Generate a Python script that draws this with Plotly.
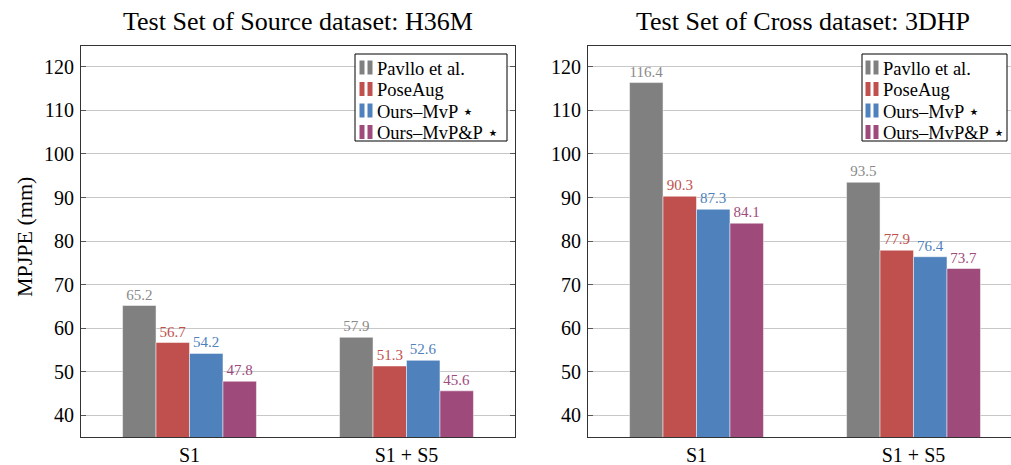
import plotly.graph_objects as go

categories = ["S1", "S1 + S5"]
methods = ["Pavllo et al.", "PoseAug", "Ours–MvP ⋆", "Ours–MvP&P ⋆"]
h36m_values = [
    [65.2, 57.9],
    [56.7, 51.3],
    [54.2, 52.6],
    [47.8, 45.6],
]
dhp_values = [
    [116.4, 93.5],
    [90.3, 77.9],
    [87.3, 76.4],
    [84.1, 73.7],
]
colors = ["#808080", "#C0504D", "#4F81BD", "#9E4A7B"]
text_colors = ["#8a8a8a", "#C0504D", "#4F81BD", "#9E4A7B"]

FONT = "Liberation Serif"

# layout geometry (pixels)
W, H = 1011, 465
L, R, T, B = 81, 0, 46, 28
PW, PH = W - L - R, H - T - B


def px(x):
    return (x - L) / PW


def py(y):
    return (T + PH - y) / PH


fig = go.Figure()
for panel, (vals, xa, ya) in enumerate([(h36m_values, "x", "y"), (dhp_values, "x2", "y2")]):
    for i, m in enumerate(methods):
        fig.add_trace(go.Bar(
            x=categories, y=vals[i], name=m, marker_color=colors[i],
            marker_line=dict(color="rgba(255,255,255,0.6)", width=0.8),
            text=[f"{v:.1f}" for v in vals[i]], textposition="outside",
            textfont=dict(family=FONT, size=15, color=text_colors[i]),
            constraintext="none", cliponaxis=False,
            xaxis=xa, yaxis=ya, showlegend=False,
        ))

yaxis_common = dict(
    range=[35, 124.8], tickvals=[40, 50, 60, 70, 80, 90, 100, 110, 120],
    showgrid=True, gridcolor="#c8c8c8", gridwidth=1,
    showline=True, linecolor="#333333", linewidth=1,
    ticks="inside", ticklen=5, tickcolor="#555555",
    tickfont=dict(family=FONT, size=20, color="black"),
    zeroline=False, ticklabelstandoff=2,
)
xaxis_common = dict(
    showline=True, linecolor="#333333", linewidth=1, mirror=True,
    ticks="", tickfont=dict(family=FONT, size=20, color="black"),
    showgrid=False, zeroline=False,
)

# custom legends (box + two-bar swatches + text), one per panel
shapes = []
annotations = []
legend_boxes = [
    dict(x0=355, x1=507, y0=54, y1=141, s1=(359.5, 364.5), s2=(367.5, 372.5), tx=375),
    dict(x0=862, x1=1007, y0=54, y1=141, s1=(865.5, 870.5), s2=(873.5, 878.5), tx=880.5),
]
row_centers = [67.5, 89, 110.5, 132]
for lb in legend_boxes:
    shapes.append(dict(type="rect", xref="paper", yref="paper",
                       x0=px(lb["x0"]), x1=px(lb["x1"]), y0=py(lb["y1"]), y1=py(lb["y0"]),
                       line=dict(color="black", width=1), fillcolor="white", layer="above"))
    for i, m in enumerate(methods):
        yc = row_centers[i]
        for (a, b) in (lb["s1"], lb["s2"]):
            shapes.append(dict(type="rect", xref="paper", yref="paper",
                               x0=px(a), x1=px(b), y0=py(yc + 7), y1=py(yc - 7),
                               line=dict(width=0), fillcolor=colors[i], layer="above"))
        annotations.append(dict(text=m, xref="paper", yref="paper", x=px(lb["tx"]), y=py(yc + 1),
                                xanchor="left", yanchor="middle", showarrow=False,
                                font=dict(family=FONT, size=18.5, color="black")))

annotations += [
    dict(text="Test Set of Source dataset: H36M", xref="paper", yref="paper",
         x=px(298), y=1.0, yshift=8, xanchor="center", yanchor="bottom", showarrow=False,
         font=dict(family=FONT, size=26, color="black")),
    dict(text="Test Set of Cross dataset: 3DHP", xref="paper", yref="paper",
         x=px(803), y=1.0, yshift=8, xanchor="center", yanchor="bottom", showarrow=False,
         font=dict(family=FONT, size=26, color="black")),
    dict(text="MPJPE (mm)", xref="paper", yref="paper", x=px(24), y=py(237),
         xanchor="center", yanchor="middle", textangle=-90, showarrow=False,
         font=dict(family=FONT, size=22, color="black")),
]

fig.update_layout(
    width=W, height=H,
    margin=dict(l=L, r=R, t=T, b=B, autoexpand=False),
    plot_bgcolor="white", paper_bgcolor="white",
    barmode="group", bargap=0.383, bargroupgap=0,
    font=dict(family=FONT, color="black"),
    showlegend=False,
    xaxis=dict(domain=[0, px(515)], range=[-0.5, 1.5], anchor="y", **xaxis_common),
    yaxis=dict(domain=[0, 1], anchor="x", mirror="ticks", **yaxis_common),
    xaxis2=dict(domain=[px(588), 1.0], range=[-0.5, 1.5 - 11 / 216.7], anchor="y2", **xaxis_common),
    yaxis2=dict(domain=[0, 1], anchor="x2", mirror=False, **yaxis_common),
    shapes=shapes,
    annotations=annotations,
)

fig.write_html("out.html")
